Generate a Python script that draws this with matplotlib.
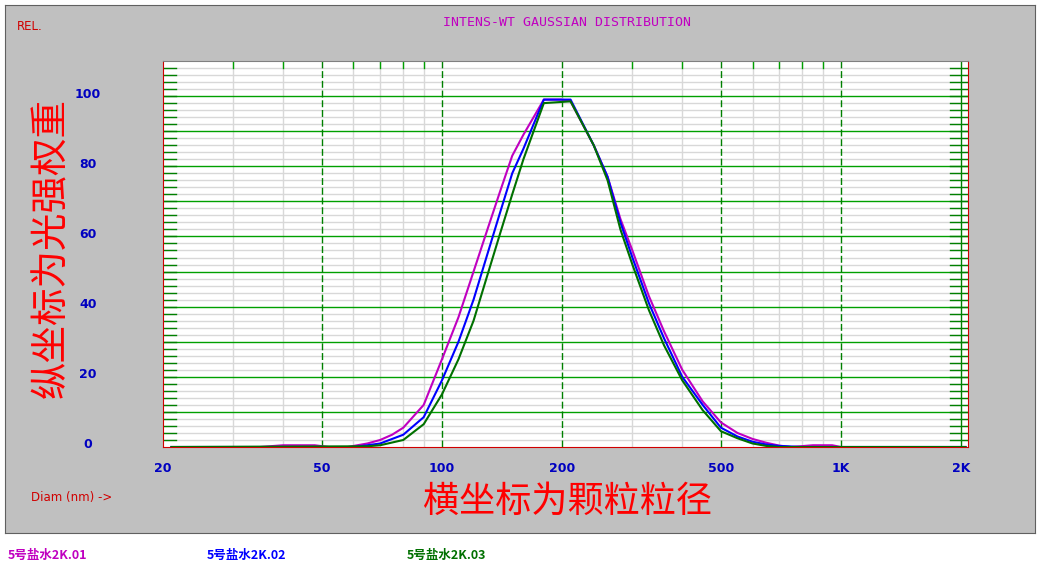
import matplotlib
matplotlib.use("Agg")
import matplotlib.pyplot as plt
import numpy as np

plt.rcParams['font.family'] = ['Noto Sans CJK SC', 'DejaVu Sans']

W, H = 1041, 570
diam_mag = [21, 35, 40, 48, 52, 58, 65, 70, 75, 80, 90, 100, 110, 120, 130, 140, 150, 160, 180, 200, 210, 240, 260, 280, 300, 330, 360, 400, 450, 500, 550, 600, 650, 700, 750, 850, 950, 1000, 2050]
rel_mag = [0, 0, 0.5, 0.5, 0, 0, 1, 2, 3.5, 5.5, 12, 25, 37, 50, 62, 73, 83, 89, 99, 99, 98.5, 86, 77, 65, 56, 43, 33, 22, 13, 7, 4, 2.3, 1.2, 0.4, 0, 0.5, 0.5, 0, 0]
diam_blue = [21, 60, 65, 70, 80, 90, 100, 110, 120, 130, 140, 150, 160, 180, 210, 240, 260, 280, 300, 330, 360, 400, 450, 500, 550, 600, 650, 700, 800, 2050]
rel_blue = [0, 0, 0.5, 1, 3.5, 8.5, 19, 30, 42, 55, 67, 78, 85, 99, 99, 86, 77, 64, 54, 41, 31, 20, 12, 5.5, 3, 1.5, 0.7, 0.3, 0, 0]
diam_green = [21, 65, 70, 80, 90, 100, 110, 120, 130, 140, 150, 160, 180, 210, 240, 260, 280, 300, 330, 360, 400, 450, 500, 550, 600, 650, 700, 2050]
rel_green = [0, 0.2, 0.5, 2, 6.5, 15, 25, 36, 49, 61, 72, 82, 98, 98.5, 86, 76, 62, 52, 39, 29, 19, 10.5, 4.5, 2.5, 1, 0.3, 0, 0]

xtick_vals = [20, 50, 100, 200, 500, 1000, 2000]
xtick_labels = ['20', '50', '100', '200', '500', '1K', '2K']
ytick_vals = [0, 20, 40, 60, 80, 100]
legend_names = ['5号盐水2K.01', '5号盐水2K.02', '5号盐水2K.03']
colors = ['#c000c0', '#0000ff', '#007000']

fig = plt.figure(figsize=(W/100, H/100), dpi=100)
fig.patch.set_facecolor('white')
bg = fig.add_axes([5/W, 1-533/H, 1030/W, 528/H], zorder=-5)
bg.set_facecolor('#c0c0c0')
bg.set_xticks([]); bg.set_yticks([])
for s in bg.spines.values():
    s.set_color('#606060')

ax = fig.add_axes([163/W, 1-447/H, 805/W, 386/H], zorder=2)
ax.set_xscale('log')
ax.set_xlim(20, 2080)
ax.set_ylim(0, 110)
ax.set_facecolor('white')

for y in np.arange(2, 110, 2):
    if y % 10 == 0:
        ax.axhline(y, color='#00a000', lw=1, zorder=1)
    else:
        ax.axhline(y, color='#d8d8d8', lw=1, zorder=0.5)
for x in [30, 40, 60, 70, 80, 90, 300, 400, 600, 700, 800, 900]:
    ax.axvline(x, color='#d8d8d8', lw=1, zorder=0.5)
    ax.plot([x, x], [108, 110], color='#00a000', lw=1, zorder=1)
for x in [50, 100, 200, 500, 1000]:
    ax.axvline(x, color='#008000', lw=1, ls=(0, (5, 2)), zorder=1)
ax.axvline(2000, color='#008000', lw=1, zorder=1)
for y in np.arange(2, 110, 2):
    ax.plot([20, 21.5], [y, y], color='#008000', lw=1, zorder=1)
    ax.plot([1880, 2080], [y, y], color='#008000', lw=1, zorder=1)

for d, r, c in zip([diam_mag, diam_blue, diam_green], [rel_mag, rel_blue, rel_green], colors):
    ax.plot(d, r, color=c, lw=1.5, zorder=3)

for s in ['left', 'bottom', 'right']:
    ax.spines[s].set_color('#d00000')
ax.spines['top'].set_color('#808080')
ax.tick_params(length=0)
ax.set_xticks([]); ax.set_yticks([])
ax.minorticks_off()

for v, lab in zip(xtick_vals, xtick_labels):
    xd = ax.transData.transform((v, 0))[0]
    fig.text(xd/W, 1-469/H, lab, color='#0000c0', fontsize=9, fontweight='bold', ha='center', va='center', family='DejaVu Sans')
for v in ytick_vals:
    yd = ax.transData.transform((20, v))[1]
    fig.text(88/W, yd/H + 2/H, str(v), color='#0000c0', fontsize=9, fontweight='bold', ha='center', va='center', family='DejaVu Sans')

fig.text(17/W, 1-27/H, 'REL.', color='#d00000', fontsize=8.5, ha='left', va='center', family='DejaVu Sans')
fig.text(567/W, 1-22/H, 'INTENS-WT GAUSSIAN DISTRIBUTION', color='#c000c0', fontsize=9.5, ha='center', va='center', family='DejaVu Sans Mono')
fig.text(31/W, 1-498/H, 'Diam (nm) ->', color='#d00000', fontsize=8.5, ha='left', va='center', family='DejaVu Sans')
fig.text(52/W, 1-248/H, '纵坐标为光强权重', color='#ff0000', fontsize=27, rotation=90, ha='center', va='center')
fig.text(567/W, 1-502/H, '横坐标为颗粒粒径', color='#ff0000', fontsize=26, ha='center', va='center')

for name, c, x0 in zip(legend_names, colors, [8, 207, 407]):
    fig.text(x0/W, 1-555/H, name, color=c, fontsize=9, fontweight='bold', ha='left', va='center')

fig.savefig('out.png', dpi=100)
